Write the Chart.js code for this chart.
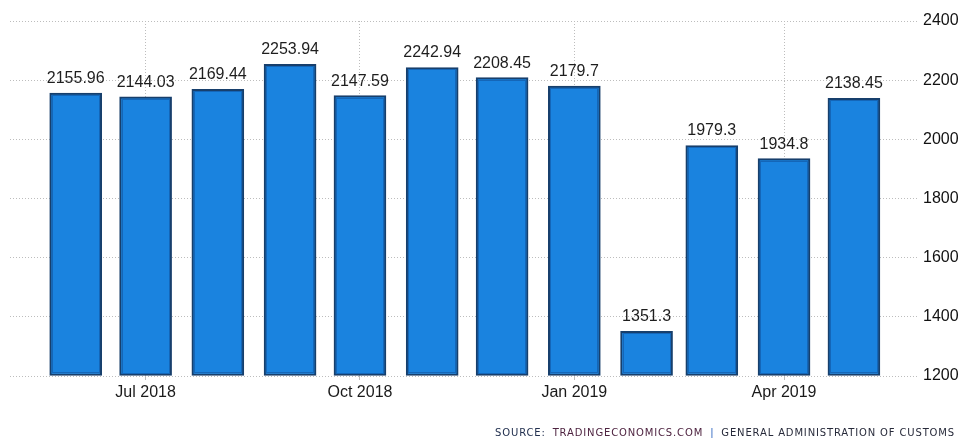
<!DOCTYPE html>
<html>
<head>
<meta charset="utf-8">
<script src="https://cdn.jsdelivr.net/npm/chart.js@4.4.0/dist/chart.umd.min.js"></script>
<style>
  html, body { margin: 0; padding: 0; background: #fff; }
  #wrap { width: 959px; height: 438px; }
</style>
</head>
<body>
<div id="wrap"><canvas id="chart" width="959" height="438"></canvas></div>
<script>
// monthly values, Jun 2018 - May 2019
var months = ["2018-06", "2018-07", "2018-08", "2018-09", "2018-10", "2018-11",
              "2018-12", "2019-01", "2019-02", "2019-03", "2019-04", "2019-05"];
var exportsUsd = [2155.96, 2144.03, 2169.44, 2253.94, 2147.59, 2242.94,
                  2208.45, 2179.7, 1351.3, 1979.3, 1934.8, 2138.45];
var tickMonths = ["2018-07", "2018-10", "2019-01", "2019-04"];
var tickLabels = ["Jul 2018", "Oct 2018", "Jan 2019", "Apr 2019"];
var yTicks = [1200, 1400, 1600, 1800, 2000, 2200, 2400];
var sourceParts = [
    ["SOURCE:", "#22304f"],
    ["TRADINGECONOMICS.COM", "#4e2340"],
    ["|", "#2b63c0"],
    ["GENERAL ADMINISTRATION OF CUSTOMS", "#272a3a"]
];

// days since 1 Jun 2018, so the x axis behaves like a time axis
function dayOf(m) {
    var p = m.split("-");
    return (Date.UTC(+p[0], +p[1] - 1, 1) - Date.UTC(2018, 5, 1)) / 86400000;
}

var points = months.map(function (m, i) { return { x: dayOf(m), y: exportsUsd[i] }; });

var valueLabels = {
    id: "valueLabels",
    afterDatasetsDraw: function (chart) {
        var ctx = chart.ctx;
        var meta = chart.getDatasetMeta(0);
        ctx.save();
        // inner shade line inside the dark border
        ctx.strokeStyle = "#1466b8";
        ctx.lineWidth = 1;
        meta.data.forEach(function (bar) {
            var w = bar.width, top = bar.y, bottom = bar.base;
            ctx.strokeRect(Math.round(bar.x - w / 2) + 2.5, Math.round(top) + 2.5,
                           Math.round(w) - 5, Math.round(bottom - top) - 5);
        });
        ctx.font = "16px 'Liberation Sans', Arial, sans-serif";
        ctx.fillStyle = "#1e1e1e";
        ctx.textAlign = "center";
        ctx.textBaseline = "alphabetic";
        meta.data.forEach(function (bar, i) {
            ctx.fillText(String(exportsUsd[i]), bar.x, bar.y - 10);
        });
        ctx.restore();
    }
};

var sourceNote = {
    id: "sourceNote",
    afterDraw: function (chart) {
        var ctx = chart.ctx;
        ctx.save();
        ctx.font = "10px 'DejaVu Sans', sans-serif";
        ctx.letterSpacing = "0.85px";
        ctx.textBaseline = "alphabetic";
        ctx.textAlign = "left";
        var gap = 7;
        var total = 0;
        sourceParts.forEach(function (p, i) {
            total += ctx.measureText(p[0]).width + (i ? gap : 0);
        });
        var x = 955 - total;
        sourceParts.forEach(function (p) {
            ctx.fillStyle = p[1];
            ctx.fillText(p[0], x, 436);
            x += ctx.measureText(p[0]).width + gap;
        });
        ctx.restore();
    }
};

new Chart(document.getElementById("chart"), {
    type: "bar",
    data: {
        datasets: [{
            data: points,
            base: yTicks[0],
            backgroundColor: "#1a83df",
            borderColor: "#173f6c",
            borderWidth: 2,
            borderSkipped: false,
            barThickness: 52
        }]
    },
    options: {
        responsive: false,
        animation: false,
        layout: { padding: { left: 10, top: 21, right: 0, bottom: 0 } },
        plugins: {
            legend: { display: false },
            tooltip: { enabled: false }
        },
        scales: {
            x: {
                type: "linear",
                min: -28.2,
                max: 361.5,
                offset: false,
                afterBuildTicks: function (s) {
                    s.ticks = tickMonths.map(function (m) { return { value: dayOf(m) }; });
                },
                afterFit: function (s) { s.height = 62; },
                ticks: {
                    autoSkip: false,
                    maxRotation: 0,
                    padding: 3,
                    color: "#1a1a1a",
                    font: { family: "'Liberation Sans', Arial, sans-serif", size: 16 },
                    callback: function (v, i) { return tickLabels[i]; }
                },
                grid: { offset: false, color: "#bdbdbd", tickLength: 4, lineWidth: 1 },
                border: { display: false, dash: [1, 2] }
            },
            y: {
                position: "right",
                min: 1200,
                max: 2400,
                afterBuildTicks: function (s) {
                    s.ticks = yTicks.map(function (v) { return { value: v }; });
                },
                afterFit: function (s) { s.width = 41; },
                ticks: {
                    padding: 5,
                    color: "#111",
                    font: { family: "'Liberation Sans Narrow', 'Liberation Sans', sans-serif", size: 16 },
                    callback: function (v) { return String(v); }
                },
                grid: { color: "#bdbdbd", drawTicks: false, lineWidth: 1 },
                border: { display: false, dash: [1, 2] }
            }
        }
    },
    plugins: [valueLabels, sourceNote]
});
</script>
</body>
</html>
